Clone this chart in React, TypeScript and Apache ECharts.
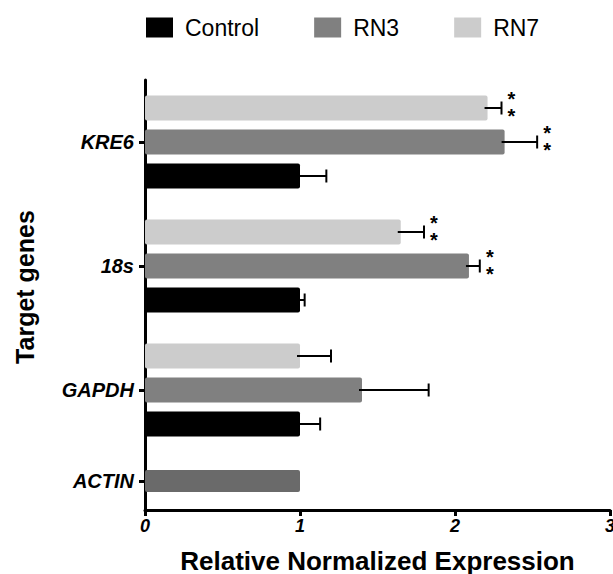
import React, { useEffect, useRef } from "react";
import * as echarts from "echarts";

const genes = ["KRE6", "18s", "GAPDH"];
const seriesNames = ["Control", "RN3", "RN7"];
const controlMean = [1.0, 1.0, 1.0];
const controlErr = [0.17, 0.03, 0.13];
const rn3Mean = [2.32, 2.09, 1.4];
const rn3Err = [0.21, 0.07, 0.43];
const rn7Mean = [2.21, 1.65, 1.0];
const rn7Err = [0.09, 0.15, 0.2];
const controlSig = ["", "", ""];
const rn3Sig = ["**", "**", ""];
const rn7Sig = ["**", "**", ""];
const referenceGenes = ["ACTIN"];
const referenceMean = [1.0];

const FONT = "'Liberation Sans', Arial, Helvetica, sans-serif";
const BAR_W = 25;
const BAR_GAP = 9;

export default function App() {
  const ref = useRef<HTMLDivElement>(null);
  useEffect(() => {
    if (!ref.current) return;
    const chart = echarts.init(ref.current, undefined, { renderer: "svg" });

    // series order: index 0 on top within each group
    const groups = [
      { name: "RN7", mean: rn7Mean, err: rn7Err, sig: rn7Sig, color: "#cccccc", slot: 0 },
      { name: "RN3", mean: rn3Mean, err: rn3Err, sig: rn3Sig, color: "#808080", slot: 1 },
      { name: "Control", mean: controlMean, err: controlErr, sig: controlSig, color: "#000000", slot: 2 },
    ];

    const barSeries = groups.map((g) => ({
      type: "bar",
      name: g.name,
      xAxisIndex: 0,
      yAxisIndex: 0,
      data: g.mean,
      barWidth: BAR_W,
      barGap: (BAR_GAP / BAR_W) * 100 + "%",
      itemStyle: { color: g.color, borderRadius: 2 },
    }));

    const errSeries = groups.map((g) => ({
      type: "custom",
      xAxisIndex: 0,
      yAxisIndex: 0,
      z: 5,
      clip: false,
      data: g.mean.map((m, i) => [m, g.err[i], i]),
      renderItem: (params: any, api: any) => {
        const m = api.value(0);
        const e = api.value(1);
        const ci = api.value(2);
        const start = api.coord([m, ci]);
        const end = api.coord([m + e, ci]);
        const total = 3 * BAR_W + 2 * BAR_GAP;
        const offset = -total / 2 + g.slot * (BAR_W + BAR_GAP) + BAR_W / 2;
        const y = start[1] + offset;
        const children: any[] = [
          {
            type: "line",
            shape: { x1: start[0] - 3, y1: y, x2: end[0], y2: y },
            style: { stroke: "#000", lineWidth: 2 },
          },
          {
            type: "line",
            shape: { x1: end[0], y1: y - 6.5, x2: end[0], y2: y + 6.5 },
            style: { stroke: "#000", lineWidth: 2 },
          },
        ];
        const s = g.sig[ci];
        if (s) {
          const n = s.length;
          for (let k = 0; k < n; k++) {
            children.push({
              type: "text",
              x: end[0] + 10,
              y: y + (k - (n - 1) / 2) * 17 - 1,
              style: {
                text: "*",
                fill: "#000",
                font: `bold 20px ${FONT}`,
                textAlign: "center",
                textVerticalAlign: "middle",
              },
            });
          }
        }
        return { type: "group", children };
      },
    }));

    const axisLineStyle = { color: "#000", width: 3 };

    chart.setOption({
      animation: false,
      textStyle: { fontFamily: FONT },
      legend: {
        data: seriesNames,
        left: 141,
        top: 11,
        itemWidth: 27,
        itemHeight: 20,
        itemGap: 55,
        icon: "rect",
        selectedMode: false,
        textStyle: { fontSize: 23, color: "#000", fontFamily: FONT, padding: [0, 0, 0, 7] },
      },
      grid: [
        { left: 145, width: 465, top: 80, height: 372, outerBoundsMode: "none", containLabel: false },
        { left: 145, width: 465, top: 452, height: 58, outerBoundsMode: "none", containLabel: false },
      ],
      xAxis: [
        { gridIndex: 0, type: "value", min: 0, max: 3, interval: 1, show: false },
        {
          gridIndex: 1,
          type: "value",
          min: 0,
          max: 3,
          interval: 1,
          splitLine: { show: false },
          axisLine: { show: true, lineStyle: axisLineStyle },
          axisTick: { show: true, length: 6, lineStyle: { color: "#000", width: 3 } },
          axisLabel: {
            color: "#000",
            fontSize: 18,
            fontWeight: "bold",
            fontStyle: "italic",
            margin: 7,
            fontFamily: FONT,
          },
          name: "Relative Normalized Expression",
          nameLocation: "middle",
          nameGap: 38,
          nameTextStyle: { fontSize: 26, fontWeight: "bold", color: "#000", fontFamily: FONT },
        },
      ],
      yAxis: [
        {
          gridIndex: 0,
          type: "category",
          data: genes,
          inverse: true,
          axisLine: { show: true, lineStyle: axisLineStyle },
          axisTick: { show: true, alignWithLabel: true, length: 6, lineStyle: { color: "#000", width: 3 } },
          axisLabel: {
            color: "#000",
            fontSize: 20,
            fontWeight: "bold",
            fontStyle: "italic",
            margin: 11,
            fontFamily: FONT,
          },
        },
        {
          gridIndex: 1,
          type: "category",
          data: referenceGenes,
          axisLine: { show: true, lineStyle: axisLineStyle },
          axisTick: { show: true, alignWithLabel: true, length: 6, lineStyle: { color: "#000", width: 3 } },
          axisLabel: {
            color: "#000",
            fontSize: 20,
            fontWeight: "bold",
            fontStyle: "italic",
            margin: 11,
            fontFamily: FONT,
          },
        },
      ],
      graphic: [
        {
          type: "text",
          x: 25,
          y: 287,
          rotation: Math.PI / 2,
          style: {
            text: "Target genes",
            font: `bold 25px ${FONT}`,
            fill: "#000",
            textAlign: "center",
            textVerticalAlign: "middle",
          },
        },
      ],
      series: [
        ...barSeries,
        {
          type: "bar",
          name: "ACTIN",
          xAxisIndex: 1,
          yAxisIndex: 1,
          data: referenceMean,
          barWidth: 22,
          itemStyle: { color: "#6a6a6a", borderRadius: 2 },
        },
        ...errSeries,
      ],
    });
    return () => chart.dispose();
  }, []);

  return (
    <div
      ref={ref}
      style={{ position: "fixed", left: 0, top: 0, width: 613, height: 574, background: "#fff" }}
    />
  );
}
